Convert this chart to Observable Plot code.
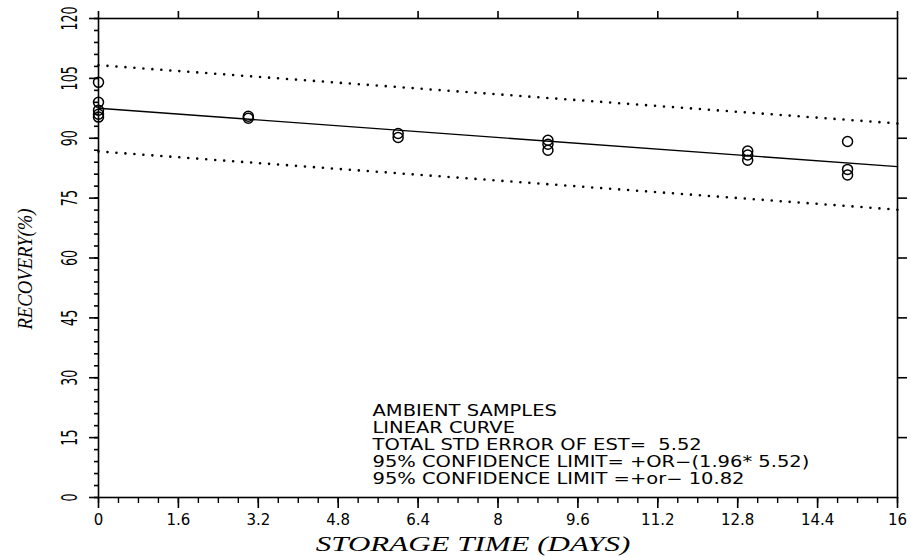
<!DOCTYPE html>
<html>
<head>
<meta charset="utf-8">
<script src="https://cdn.jsdelivr.net/npm/d3@7"></script>
<script src="https://cdn.jsdelivr.net/npm/@observablehq/plot@0.6"></script>
<style>
  html, body { margin: 0; padding: 0; background: #fff; }
  #chart svg { display: block; }
</style>
</head>
<body>
<div id="chart"></div>
<script>
// Observed data (storage time in days, recovery %)
const storageDays = [0, 0, 0, 0, 0, 3, 3, 6, 6, 9, 9, 9, 13, 13, 13, 15, 15, 15];
const recovery    = [104, 99, 97, 96, 95.3, 95.5, 95, 91.2, 90.2, 89.5, 88.5, 87, 86.8, 85.8, 84.5, 89.2, 82.2, 80.8];

// Fitted line and 95% confidence limits (endpoints)
const fitX   = [0, 16];
const fitY   = [97.5, 82.9];
const upperY = [108.3, 93.7];
const lowerY = [86.7, 72.1];

// Axis ticks
const xMajor = [0, 1.6, 3.2, 4.8, 6.4, 8, 9.6, 11.2, 12.8, 14.4, 16];
const xTickLabels = ["0", "1.6", "3.2", "4.8", "6.4", "8", "9.6", "11.2", "12.8", "14.4", "16"];
const xMinor = d3.range(0, 41).map(i => +(i * 0.4).toFixed(1));
const yMajor = [0, 15, 30, 45, 60, 75, 90, 105, 120];
const yTickLabels = ["0", "15", "30", "45", "60", "75", "90", "105", "120"];
const yMinor = d3.range(0, 41).map(i => i * 3);

const annotation = [
  "AMBIENT SAMPLES",
  "LINEAR CURVE",
  "TOTAL STD ERROR OF EST=  5.52",
  "95% CONFIDENCE LIMIT= +OR\u2212(1.96* 5.52)",
  "95% CONFIDENCE LIMIT =+or\u2212 10.82"
].join("\n");

const points = storageDays.map((d, i) => ({x: d, y: recovery[i]}));
const fit = fitX.map((x, i) => ({x, y: fitY[i], up: upperY[i], lo: lowerY[i]}));

const sans = "'DejaVu Sans', sans-serif";
const serif = "'Liberation Serif', 'DejaVu Serif', serif";

const chart = Plot.plot({
  width: 911,
  height: 557,
  marginLeft: 98,
  marginRight: 14,
  marginTop: 18,
  marginBottom: 60,
  style: {background: "#fff", color: "#000"},
  x: {domain: [0, 16], axis: null},
  y: {domain: [0, 120], axis: null},
  marks: [
    Plot.frame({stroke: "#000", strokeWidth: 1.6}),
    // bottom axis
    Plot.axisX({anchor: "bottom", label: null, ticks: xMinor, tickSize: 6, text: null, strokeWidth: 1.4}),
    Plot.axisX({anchor: "bottom", label: null, ticks: xMajor, tickSize: 11, tickPadding: 6, strokeWidth: 1.6,
      tickFormat: d => xTickLabels[xMajor.indexOf(d)],
      fontSize: 15, fontFamily: sans, fill: "#000", style: {letterSpacing: "2px"}}),
    // top axis
    Plot.axisX({anchor: "top", label: null, ticks: xMajor, tickSize: 8, text: null, strokeWidth: 1.6}),
    // left axis
    Plot.axisY({anchor: "left", label: null, ticks: yMinor, tickSize: 4, text: null, strokeWidth: 1.6}),
    Plot.axisY({anchor: "left", label: null, ticks: yMajor, tickSize: 9, text: null, strokeWidth: 1.6}),
    // [text group 0] y tick labels
    Plot.text(yMajor, {y: d => d, text: (d, i) => yTickLabels[i], frameAnchor: "left", dx: -28,
      rotate: -90, textAnchor: "middle", lineAnchor: "middle",
      fontSize: 21, fontFamily: sans, fill: "#000"}),
    // right axis
    Plot.axisY({anchor: "right", label: null, ticks: yMajor.slice(1, -1), tickSize: 9, text: null, strokeWidth: 1.6}),
    // [text group 1] y title
    Plot.text(["RECOVERY(%)"], {frameAnchor: "left", dx: -74, dy: 11, rotate: -90, textAnchor: "middle",
      lineAnchor: "middle",
      fontSize: 22, fontStyle: "italic", fontFamily: serif, fill: "#000"}),
    // [text group 2] x title
    Plot.text(["STORAGE TIME (DAYS)"], {frameAnchor: "bottom", dx: -25, dy: 47, textAnchor: "middle",
      lineAnchor: "middle",
      fontSize: 20, fontStyle: "italic", fontFamily: serif, fill: "#000",
      style: {letterSpacing: "1.5px"}}),
    // confidence limits
    Plot.line(fit, {x: "x", y: "up", stroke: "#000", strokeWidth: 2.6, strokeDasharray: "0 9", strokeLinecap: "round"}),
    Plot.line(fit, {x: "x", y: "lo", stroke: "#000", strokeWidth: 2.6, strokeDasharray: "0 9", strokeLinecap: "round"}),
    // fitted line
    Plot.line(fit, {x: "x", y: "y", stroke: "#000", strokeWidth: 1.4}),
    // points
    Plot.dot(points, {x: "x", y: "y", r: 5, stroke: "#000", strokeWidth: 1.5, fill: "none"}),
    // [text group 3] annotation
    Plot.text([annotation], {frameAnchor: "bottom-left", dx: 274, dy: -14, textAnchor: "start",
      lineAnchor: "bottom", lineHeight: 1.12,
      fontSize: 15, fontFamily: sans, fill: "#000"})
  ]
});

// Horizontal stretch/condense of glyphs to mimic the original plotter fonts
const textGroups = d3.select(chart).selectAll('g[aria-label="text"]').nodes();
function stretch(group, sx) {
  if (!group) return;
  d3.select(group).selectAll("text").each(function() {
    const t = this.getAttribute("transform");
    if (t) {
      this.setAttribute("transform", t + ` scale(${sx},1)`);
    } else {
      const x = +(this.getAttribute("x") || 0), y = +(this.getAttribute("y") || 0);
      this.setAttribute("transform", `translate(${x},${y}) scale(${sx},1) translate(${-x},${-y})`);
    }
  });
}
stretch(textGroups[0], 0.6);
stretch(textGroups[1], 0.85);
stretch(textGroups[2], 1.55);
stretch(textGroups[3], 1.3);

document.getElementById("chart").appendChild(chart);
</script>
</body>
</html>
